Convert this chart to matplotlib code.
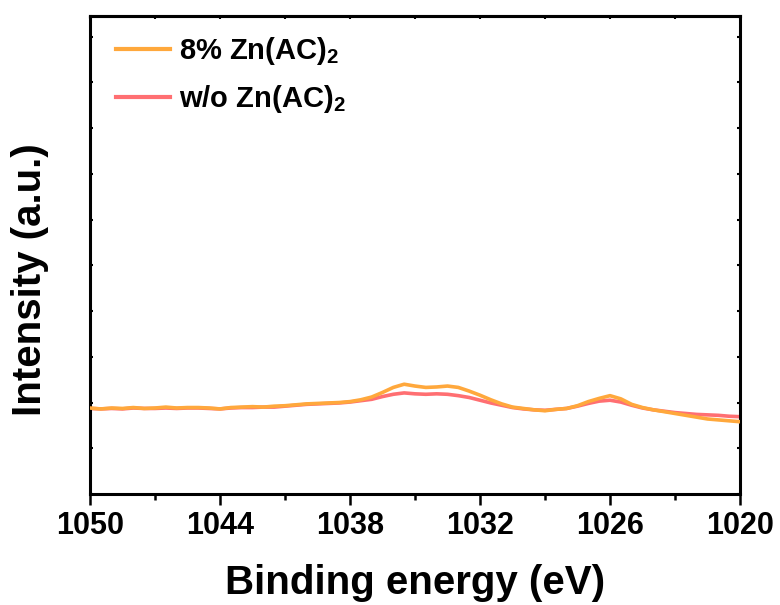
import matplotlib
matplotlib.use("Agg")
import matplotlib.pyplot as plt
from matplotlib.ticker import MultipleLocator, NullFormatter

plt.rcParams["font.family"] = ["Liberation Sans", "DejaVu Sans"]
plt.rcParams["font.weight"] = "bold"
plt.rcParams["mathtext.fontset"] = "custom"
plt.rcParams["mathtext.rm"] = "Liberation Sans:bold"
plt.rcParams["mathtext.bf"] = "Liberation Sans:bold"
plt.rcParams["mathtext.default"] = "bf"

# binding energy grid (eV), 0.5 eV step
energy = [
    1050.0, 1049.5, 1049.0, 1048.5, 1048.0, 1047.5, 1047.0, 1046.5, 1046.0, 1045.5,
    1045.0, 1044.5, 1044.0, 1043.5, 1043.0, 1042.5, 1042.0, 1041.5, 1041.0, 1040.5,
    1040.0, 1039.5, 1039.0, 1038.5, 1038.0, 1037.5, 1037.0, 1036.5, 1036.0, 1035.5,
    1035.0, 1034.5, 1034.0, 1033.5, 1033.0, 1032.5, 1032.0, 1031.5, 1031.0, 1030.5,
    1030.0, 1029.5, 1029.0, 1028.5, 1028.0, 1027.5, 1027.0, 1026.5, 1026.0, 1025.5,
    1025.0, 1024.5, 1024.0, 1023.5, 1023.0, 1022.5, 1022.0, 1021.5, 1021.0, 1020.5,
    1020.0,
]

# 8% Zn(AC)2
zn8 = [
    1.88, 1.86, 1.88, 1.87, 1.89, 1.87, 1.88, 1.90, 1.88, 1.89,
    1.89, 1.88, 1.86, 1.89, 1.90, 1.91, 1.90, 1.92, 1.93, 1.95,
    1.97, 1.98, 1.99, 2.00, 2.02, 2.06, 2.12, 2.22, 2.33, 2.40,
    2.36, 2.33, 2.34, 2.36, 2.33, 2.25, 2.16, 2.06, 1.97, 1.90,
    1.87, 1.84, 1.82, 1.85, 1.87, 1.93, 2.02, 2.09, 2.15, 2.08,
    1.96, 1.89, 1.84, 1.80, 1.76, 1.72, 1.68, 1.64, 1.62, 1.60,
    1.58,
]

# w/o Zn(AC)2
zn0 = [
    1.87, 1.86, 1.87, 1.86, 1.88, 1.87, 1.87, 1.88, 1.87, 1.88,
    1.88, 1.87, 1.86, 1.88, 1.89, 1.89, 1.90, 1.90, 1.92, 1.94,
    1.96, 1.97, 1.98, 1.99, 2.01, 2.04, 2.07, 2.13, 2.18, 2.21,
    2.19, 2.18, 2.19, 2.18, 2.15, 2.11, 2.05, 1.99, 1.94, 1.89,
    1.86, 1.84, 1.83, 1.85, 1.87, 1.92, 1.98, 2.03, 2.05, 2.01,
    1.94, 1.88, 1.84, 1.81, 1.78, 1.76, 1.74, 1.73, 1.72, 1.70,
    1.69,
]

x_ticks = [1050, 1044, 1038, 1032, 1026, 1020]

fig = plt.figure(figsize=(7.8, 6.05), dpi=100)
ax = fig.add_axes([90 / 780, 1 - 494 / 605, 650 / 780, 478 / 605])

ax.plot(energy, zn8, color="#FFA83C", lw=2.6, label="8% Zn(AC)$_2$", zorder=3)
ax.plot(energy, zn0, color="#FF6F72", lw=2.6, label="w/o Zn(AC)$_2$", zorder=2)

ax.set_xlim(1050, 1020)
ax.set_ylim(0, 10.45)
ax.set_xticks(x_ticks)
ax.xaxis.set_minor_locator(MultipleLocator(3))
ax.yaxis.set_major_locator(MultipleLocator(1))
ax.yaxis.set_major_formatter(NullFormatter())

for side in ["left", "right", "top", "bottom"]:
    ax.spines[side].set_linewidth(2.2)

ax.tick_params(axis="x", which="major", direction="out", length=8, width=1.8,
               labelsize=22, pad=4, top=False)
ax.tick_params(axis="x", which="minor", direction="out", length=4, width=1.8, top=False)
ax.tick_params(axis="y", which="major", direction="in", length=2, width=1.5,
               left=True, right=True)

# small inward ticks along the top spine
top = ax.secondary_xaxis("top")
top.xaxis.set_major_locator(MultipleLocator(3))
top.xaxis.set_major_formatter(NullFormatter())
top.tick_params(direction="in", length=2, width=1.5)
top.spines["top"].set_linewidth(2.2)

ax.set_xlabel("Binding energy (eV)", fontsize=29, fontweight="bold", labelpad=17)
ax.set_ylabel("Intensity (a.u.)", fontsize=29, fontweight="bold")
ax.yaxis.set_label_coords(-0.063, 0.448)

leg = ax.legend(loc="upper left", bbox_to_anchor=(0.011, 1.0), frameon=False,
                fontsize=21, handlelength=1.85, handletextpad=0.3,
                labelspacing=0.55, borderaxespad=0.25)
for line in leg.get_lines():
    line.set_linewidth(3.0)

fig.savefig("out.png", dpi=100)
